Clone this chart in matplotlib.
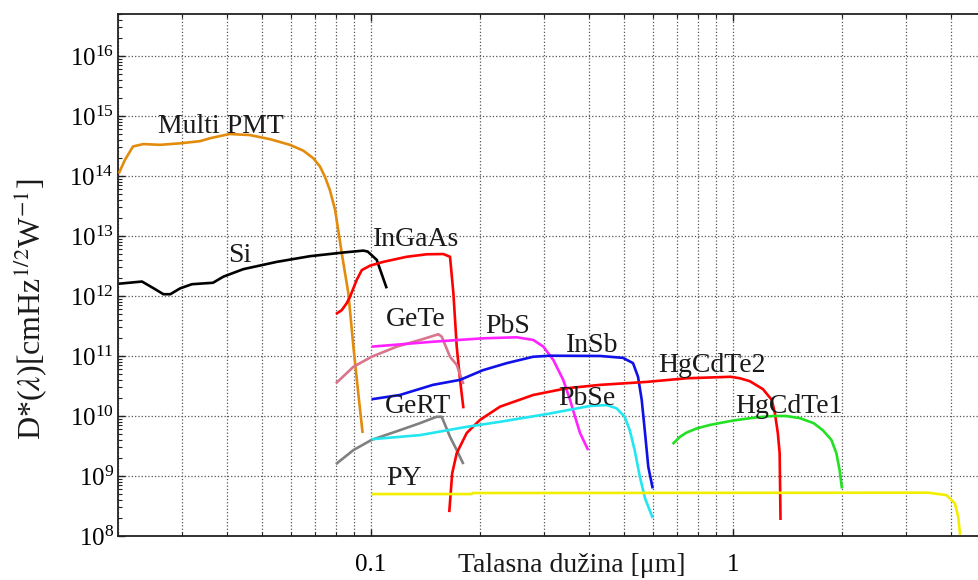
import numpy as np
import matplotlib
matplotlib.use("Agg")
import matplotlib.pyplot as plt
from matplotlib.ticker import LogLocator, NullFormatter, FixedLocator, FixedFormatter

plt.rcParams['font.family'] = ['Liberation Serif', 'DejaVu Serif']
plt.rcParams['mathtext.fontset'] = 'stix'

# Spectral detectivity curves: wavelength [um], D* [cm Hz^1/2 W^-1]
pmt_wl = [0.0201, 0.0209, 0.0220, 0.0235, 0.0261, 0.0297, 0.0337, 0.0359, 0.0407,
          0.0463, 0.0526, 0.0597, 0.0650, 0.0693, 0.0723, 0.0746, 0.0770, 0.0796,
          0.0830, 0.0866, 0.0894, 0.0922, 0.0948]
pmt_d = [1.1e14, 1.85e14, 3.1e14, 3.4e14, 3.3e14, 3.5e14, 3.8e14, 4.25e14, 5.0e14,
         4.8e14, 4.1e14, 3.3e14, 2.64e14, 1.97e14, 1.43e14, 9.7e13, 5.8e13, 2.7e13,
         5.2e12, 1.1e12, 1.43e11, 2.4e10, 5.2e9]

si_wl = [0.0201, 0.0233, 0.0251, 0.0267, 0.0279, 0.0297, 0.0320, 0.0366, 0.0391,
         0.0444, 0.0549, 0.0678, 0.0839, 0.0952, 0.0979, 0.1037, 0.1105]
si_d = [1.6e12, 1.74e12, 1.34e12, 1.07e12, 1.07e12, 1.34e12, 1.57e12, 1.66e12, 2.1e12,
        2.8e12, 3.7e12, 4.6e12, 5.3e12, 5.7e12, 5.5e12, 4.0e12, 1.34e12]

ingaas_wl = [0.0800, 0.0830, 0.0857, 0.0875, 0.0913, 0.0943, 0.0994, 0.1081, 0.1255,
             0.1425, 0.1584, 0.1653, 0.1689, 0.1725, 0.1762, 0.1800]
ingaas_d = [5.0e11, 5.8e11, 7.6e11, 9.7e11, 1.85e12, 2.7e12, 3.2e12, 3.7e12, 4.5e12,
            4.95e12, 5.0e12, 4.5e12, 1.1e12, 1.43e11, 4.0e10, 1.34e10]

gete_wl = [0.0800, 0.0894, 0.1004, 0.1178, 0.1366, 0.1535, 0.1568, 0.1653, 0.1725, 0.1800]
gete_d = [3.5e10, 6.6e10, 9.7e10, 1.43e11, 1.85e11, 2.3e11, 2.1e11, 9.7e10, 7.1e10, 3.4e10]

gert_wl = [0.0800, 0.0894, 0.1004, 0.1202, 0.1366, 0.1518, 0.1568, 0.1653, 0.1725, 0.1800]
gert_d = [1.58e9, 2.7e9, 4.0e9, 5.8e9, 7.6e9, 9.7e9, 9.7e9, 4.5e9, 2.7e9, 1.58e9]

pbs_wl = [0.1004, 0.1486, 0.2042, 0.2526, 0.2807, 0.2993, 0.3188, 0.3396, 0.3547,
          0.3662, 0.3780, 0.3980]
pbs_d = [1.43e11, 1.73e11, 1.97e11, 2.05e11, 1.85e11, 1.43e11, 8.6e10, 4.0e10, 1.85e10,
         9.7e9, 5.2e9, 2.7e9]

insb_wl = [0.1004, 0.1202, 0.1483, 0.1762, 0.2039, 0.2372, 0.2803, 0.3122, 0.4292,
           0.4967, 0.5295, 0.5466, 0.5596, 0.5715, 0.5834, 0.6000]
insb_d = [1.9e10, 2.24e10, 3.3e10, 4.0e10, 5.8e10, 7.6e10, 9.7e10, 1.01e11, 1.0e11,
          9.3e10, 7.6e10, 4.5e10, 1.85e10, 5.2e9, 1.43e9, 6.2e8]

hgcdte2_wl = [0.1645, 0.1676, 0.1725, 0.1838, 0.2000, 0.2272, 0.2807, 0.3473, 0.4292,
              0.5776, 0.7446, 0.9850, 1.045, 1.113, 1.210, 1.280, 1.306, 1.330, 1.3455,
              1.353]
hgcdte2_d = [2.5e8, 1.11e9, 2.4e9, 5.2e9, 8.6e9, 1.43e10, 2.24e10, 2.9e10, 3.3e10,
             3.7e10, 4.25e10, 4.5e10, 4.25e10, 3.8e10, 2.8e10, 1.85e10, 1.1e10, 5.2e9,
             2.4e9, 1.85e8]

pbse_wl = [0.1004, 0.1366, 0.1838, 0.2272, 0.3122, 0.4025, 0.4480, 0.4770, 0.5020,
           0.5186, 0.5350, 0.5530, 0.5715, 0.6000]
pbse_d = [4.1e9, 4.8e9, 6.6e9, 8.0e9, 1.1e10, 1.47e10, 1.52e10, 1.34e10, 9.7e9,
          5.8e9, 2.7e9, 9.7e8, 4.25e8, 2.0e8]

hgcdte1_wl = [0.681, 0.7137, 0.7447, 0.7937, 0.8643, 1.0008, 1.163, 1.294, 1.400,
              1.530, 1.670, 1.770, 1.870, 1.930, 1.970, 2.000]
hgcdte1_d = [3.4e9, 4.5e9, 5.3e9, 6.2e9, 7.1e9, 8.4e9, 9.5e9, 1.0e10, 1.0e10,
             9.2e9, 7.6e9, 5.8e9, 4.0e9, 2.4e9, 1.26e9, 6.2e8]

py_wl = [0.1004, 0.1897, 0.1910, 3.46, 3.89, 4.10, 4.19, 4.24]
py_d = [5.0e8, 5.0e8, 5.2e8, 5.27e8, 4.8e8, 3.5e8, 2.1e8, 1.04e8]

series = [
    (pmt_wl, pmt_d, '#E38B0C'),
    (si_wl, si_d, '#000000'),
    (ingaas_wl, ingaas_d, '#FF0000'),
    (gete_wl, gete_d, '#D8748C'),
    (gert_wl, gert_d, '#808080'),
    (pbs_wl, pbs_d, '#FF22FF'),
    (insb_wl, insb_d, '#1010E8'),
    (hgcdte2_wl, hgcdte2_d, '#FF0000'),
    (pbse_wl, pbse_d, '#22E6F0'),
    (hgcdte1_wl, hgcdte1_d, '#22E022'),
    (py_wl, py_d, '#F2EE00'),
]

# Curve names and the (wavelength, D*) anchor of each name's baseline-left corner
label_names = ['Multi PMT', 'Si', 'InGaAs', 'GeTe', 'PbS', 'InSb', 'HgCdTe2',
               'PbSe', 'GeRT', 'HgCdTe1', 'PY']
label_wl = [0.0258, 0.0403, 0.1013, 0.1100, 0.2065, 0.3456, 0.6207, 0.3284, 0.1093,
            1.013, 0.1100]
label_d = [5.2e14, 3.7e12, 6.8e12, 3.16e11, 2.4e11, 1.17e11, 5.4e10, 1.53e10, 1.12e10,
           1.12e10, 7.1e8]

fig = plt.figure(figsize=(9.79, 5.80), dpi=100)
ax = fig.add_axes([118 / 979, 44 / 580, 868 / 979, 522 / 580])
ax.set_xscale('log')
ax.set_yscale('log')
ax.set_xlim(0.02, 5)
ax.set_ylim(1e8, 5e16)

for wl, d, c in series:
    ax.plot(wl, d, color=c, lw=1.9, solid_joinstyle='round', solid_capstyle='butt', zorder=3)

for name, x, y in zip(label_names, label_wl, label_d):
    ax.text(x, y, name, fontsize=20, ha='left', va='baseline', color='#1a1a1a', zorder=4)

ax.xaxis.set_major_locator(FixedLocator([0.1, 1]))
ax.xaxis.set_major_formatter(FixedFormatter(['0.1', '1']))
ax.xaxis.set_minor_locator(LogLocator(base=10, subs=np.arange(2, 10), numticks=50))
ax.xaxis.set_minor_formatter(NullFormatter())
ax.yaxis.set_major_locator(LogLocator(base=10, numticks=30))
ax.yaxis.set_minor_locator(LogLocator(base=10, subs=np.arange(2, 10), numticks=100))
ax.yaxis.set_minor_formatter(NullFormatter())

ax.tick_params(which='both', direction='in', top=True, right=True, color='#222222')
ax.tick_params(which='major', length=5, width=1.0)
ax.tick_params(which='minor', length=3, width=0.8)
ax.tick_params(axis='y', which='major', labelsize=18, pad=3)
ax.tick_params(axis='x', which='major', labelsize=18, pad=13)

ax.grid(which='major', axis='both', linestyle=':', color='#555555', lw=0.9)
ax.grid(which='minor', axis='x', linestyle=':', color='#555555', lw=0.9)
ax.set_axisbelow(True)

for s in ax.spines.values():
    s.set_color('#222222')
    s.set_linewidth(1.3)

fig.text(572 / 979, (580 - 572) / 580, 'Talasna dužina [μm]', fontsize=20,
         ha='center', va='baseline', color='#1a1a1a')
fig.text(30 / 979, (580 - 309) / 580, r'D*($\lambda$)[cmHz$^{1/2}$W$^{-1}$]',
         fontsize=23, rotation=90, ha='center', va='center', color='#1a1a1a')

fig.savefig('out.png', dpi=100)
